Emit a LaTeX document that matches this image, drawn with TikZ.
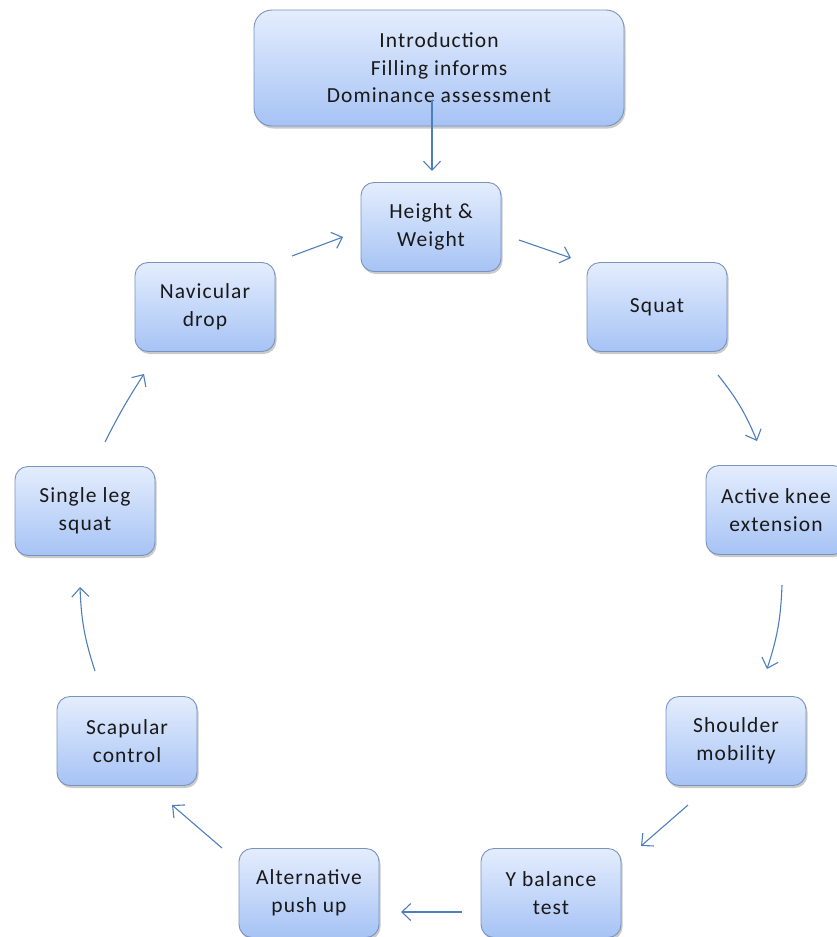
\documentclass[tikz,border=0pt]{standalone}
\usepackage{fontspec}
\setmainfont{Carlito}[LetterSpace=5]
\usetikzlibrary{arrows.meta,shadows}
\definecolor{boxtop}{HTML}{E4EDFD}
\definecolor{boxbot}{HTML}{A6C3F5}
\definecolor{boxline}{HTML}{7893BD}
\definecolor{arrowblue}{HTML}{4F7FBA}
\tikzset{
  stepbox/.style={draw=boxline, line width=0.9pt, rounded corners=13pt,
    top color=boxtop, bottom color=boxbot,
    minimum width=140pt, minimum height=89pt, align=center,
    font=\fontsize{21.5}{27.5}\selectfont, text=black!90,
    drop shadow={shadow xshift=1.5pt, shadow yshift=-2.5pt, opacity=0.35, fill=black!60}},
  flow/.style={draw=arrowblue, line width=1.1pt,
    -{Straight Barb[length=9pt,width=17pt,line width=1.1pt]}}
}
\begin{document}
\begin{tikzpicture}[x=1pt,y=-1pt]
\useasboundingbox (0,0) rectangle (837,937);
\clip (0,0) rectangle (837,937);

% boxes of the assessment cycle
\node[stepbox, minimum width=370pt, minimum height=116pt, rounded corners=18pt] (intro) at (439,68)
  {Introduction\\Filling informs\\Dominance assessment};
\node[stepbox] (hw)   at (431,227) {Height \&\\Weight};
\node[stepbox] (sq)   at (657,307) {Squat};
\node[stepbox] (ake)  at (776,510) {Active knee\\extension};
\node[stepbox] (sm)   at (736,741) {Shoulder\\mobility};
\node[stepbox] (yb)   at (551,893) {Y balance\\test};
\node[stepbox] (ap)   at (309,893) {Alternative\\push up};
\node[stepbox] (sc)   at (127,741) {Scapular\\control};
\node[stepbox] (sls)  at (85,511)  {Single leg\\squat};
\node[stepbox] (nd)   at (205,307) {Navicular\\drop};

% end points of the connectors
\coordinate (i1) at (432,100);  \coordinate (i2) at (432,171);
\coordinate (h1) at (519,240);  \coordinate (h2) at (571,258);
\coordinate (s1) at (718,375);  \coordinate (s2) at (757,441);
\coordinate (a1) at (782,585);  \coordinate (a2) at (767,669);
\coordinate (m1) at (688,805);  \coordinate (m2) at (641,846);
\coordinate (y1) at (462,912);  \coordinate (y2) at (401,912);
\coordinate (p1) at (222,848);  \coordinate (p2) at (172,805);
\coordinate (c1) at (95,671);   \coordinate (c2) at (80,587);
\coordinate (l1) at (105,442);  \coordinate (l2) at (144,374);
\coordinate (n1) at (292,256);  \coordinate (n2) at (343,237);

\draw[flow] (i1) -- (i2);
\draw[flow] (h1) -- (h2);
\draw[flow] (s1) to[bend left=8] (s2);
\draw[flow] (a1) to[bend left=8] (a2);
\draw[flow] (m1) -- (m2);
\draw[flow] (y1) -- (y2);
\draw[flow] (p1) -- (p2);
\draw[flow] (c1) to[bend left=8] (c2);
\draw[flow] (l1) to[bend left=3] (l2);
\draw[flow] (n1) -- (n2);
\end{tikzpicture}
\end{document}
